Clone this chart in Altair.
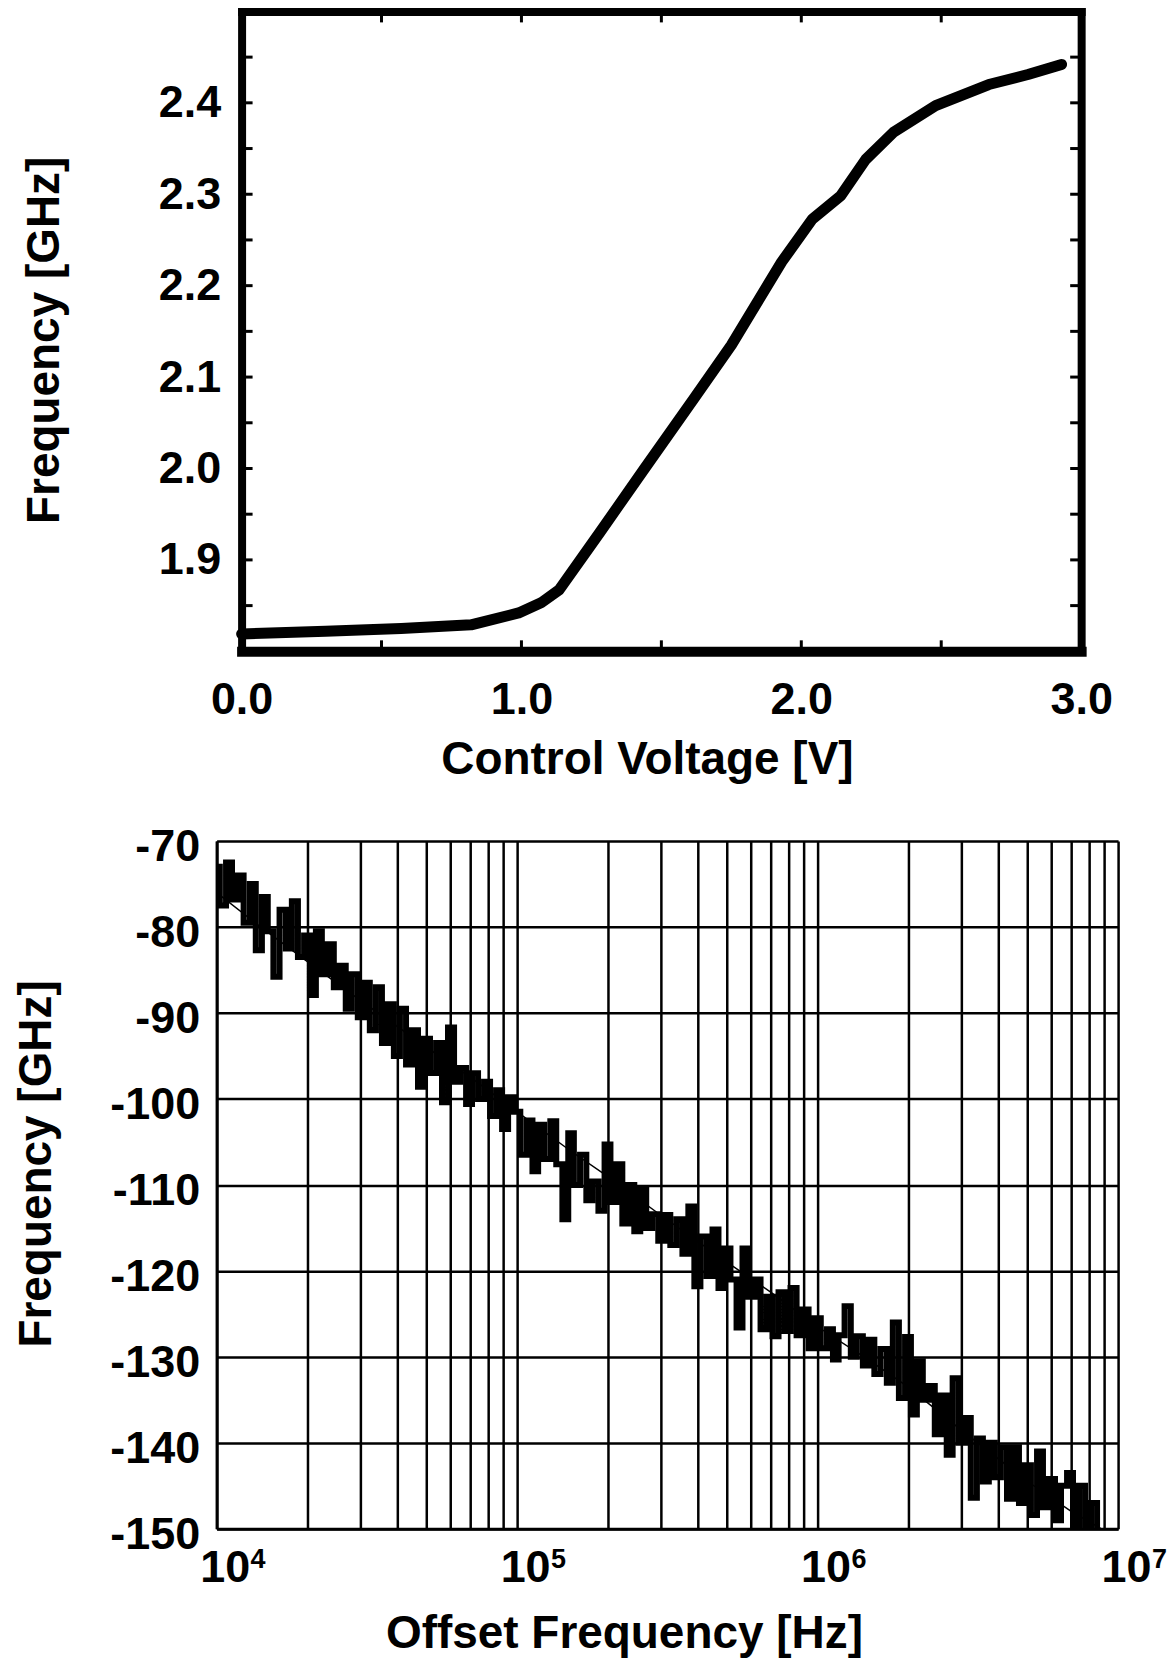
import altair as alt
import pandas as pd

FONT = "Liberation Sans"

# ---------------- top chart: tuning curve ----------------
volt = [0.0, 0.3, 0.57, 0.82, 0.99, 1.07, 1.134, 1.28, 1.44, 1.62, 1.75,
        1.93, 2.04, 2.14, 2.23, 2.33, 2.48, 2.67, 2.81, 2.93]
freq_ghz = [1.819, 1.822, 1.825, 1.829, 1.842, 1.853, 1.867, 1.930, 2.000,
            2.078, 2.135, 2.226, 2.273, 2.298, 2.338, 2.368, 2.397, 2.420,
            2.431, 2.442]
top_y_labels = [1.9, 2.0, 2.1, 2.2, 2.3, 2.4]
top_x_labels = [0.0, 1.0, 2.0, 3.0]
top_y_ticks = [1.85, 1.90, 1.95, 2.00, 2.05, 2.10, 2.15, 2.20, 2.25, 2.30,
               2.35, 2.40, 2.45]
top_x_ticks = [0.5, 1.0, 1.5, 2.0, 2.5]

# ---------------- bottom chart: phase noise ----------------
mantissa = [1.00, 1.05, 1.10, 1.15, 1.20, 1.26, 1.32, 1.38, 1.45, 1.51,
            1.58, 1.66, 1.74, 1.82, 1.91, 2.00, 2.09, 2.19, 2.29, 2.40,
            2.51, 2.63, 2.75, 2.88, 3.02, 3.16, 3.31, 3.47, 3.63, 3.80,
            3.98, 4.17, 4.37, 4.57, 4.79, 5.01, 5.25, 5.50, 5.75, 6.03,
            6.31, 6.61, 6.92, 7.24, 7.59, 7.94, 8.32, 8.71, 9.12, 9.55]
decades = [10000, 100000, 1000000]
noise_dbc = [
    -73.0, -77.5, -72.5, -76.8, -74.0, -79.5, -75.0, -82.7, -76.5, -80.5,
    -85.8, -78.0, -82.5, -77.0, -83.5, -81.0, -87.9, -80.5, -85.5, -82.0,
    -87.0, -84.5, -89.5, -85.5, -90.5, -86.5, -92.0, -87.0, -93.5, -89.0,
    -95.0, -89.5, -96.0, -92.0, -98.6, -93.0, -97.0, -93.5, -100.4, -91.7,
    -98.0, -96.4, -100.6, -97.0, -100.0, -98.0, -102.0, -99.0, -103.5, -99.8,
    -101.5, -106.5, -102.5, -108.4, -103.0, -107.0, -102.6, -107.6, -114.0, -104.0,
    -110.0, -106.5, -111.8, -109.6, -113.0, -105.3, -112.0, -107.6, -114.5, -110.0,
    -115.4, -110.5, -115.0, -113.4, -116.5, -113.5, -117.0, -114.0, -118.0, -112.5,
    -121.8, -116.0, -120.6, -115.2, -122.0, -117.4, -121.0, -126.6, -117.4, -123.0,
    -121.0, -126.8, -123.0, -127.6, -122.5, -127.0, -122.0, -127.5, -124.5, -129.0,
    -125.5, -129.0, -126.8, -130.3, -127.5, -124.1, -130.0, -127.6, -131.0, -128.0,
    -132.0, -129.1, -133.0, -126.0, -134.8, -127.7, -136.7, -130.5, -135.0, -133.4,
    -139.0, -134.5, -141.4, -132.5, -140.0, -137.1, -146.4, -139.5, -144.5, -140.0,
    -144.0, -140.5, -146.5, -140.5, -147.0, -142.6, -148.4, -141.0, -147.5, -144.2,
    -149.0, -145.0, -143.5, -150.5, -145.0, -151.0, -147.0, -152.0]
trend_hz = [1e4, 1.4e4, 2e4, 3e4, 5e4, 7e4, 1e5, 1.5e5, 2e5, 3e5, 5e5, 7e5,
            1e6, 1.5e6, 2e6, 3e6, 5e6, 7e6, 8.8e6]
trend_dbc = [-76, -80, -84, -88.5, -94, -97.5, -101.5, -106, -109, -113.5,
             -119, -122.5, -126.5, -130.5, -133.5, -138.5, -144.5, -148, -150]
bottom_y_labels = [-150, -140, -130, -120, -110, -100, -90, -80, -70]
grid_steps = [1, 2, 3, 4, 5, 6, 7, 8, 9]
decade_ticks = [10000, 100000, 1000000, 10000000]
decade_exponents = ["4", "5", "6", "7"]

freq_hz = [m * d for d in decades for m in mantissa][:len(noise_dbc)]
grid_hz = [s * d for d in decades for s in grid_steps] + [10000000]

ax_common = dict(
    labelFont=FONT, labelFontSize=45, labelFontWeight="bold", labelColor="black",
    titleFont=FONT, titleFontSize=46, titleFontWeight="bold", titleColor="black",
    domainColor="black", ticks=False, tickSize=0,
    labelFlush=False, labelOverlap=False,
)

# ---------------- top chart ----------------
W1, H1 = 866, 641
LEFT_IN = 25
xs1 = alt.Scale(domain=[0, 3], range=[LEFT_IN, W1], nice=False, zero=False)
ys1 = alt.Scale(domain=[1.8, 2.5], nice=False, zero=False)

curve_df = pd.DataFrame({"v": volt, "f": freq_ghz})

curve = alt.Chart(curve_df).mark_line(
    color="black", strokeWidth=11, strokeCap="round", strokeJoin="round"
).encode(
    x=alt.X("v:Q", scale=xs1, axis=alt.Axis(
        orient="bottom", values=top_x_labels, format=".1f", labelPadding=26,
        domainWidth=10, domainCap="square", grid=False,
        title="Control Voltage [V]", titleX=431, titleY=86,
        titleBaseline="top", titleAlign="center", **ax_common)),
    y=alt.Y("f:Q", scale=ys1, axis=alt.Axis(
        orient="left", offset=-LEFT_IN, values=top_y_labels, format=".1f",
        labelPadding=21, domainWidth=8, domainCap="square", grid=False,
        title="Frequency [GHz]", titleX=-219, titleY=329, titleAngle=270,
        titleBaseline="top", titleAlign="center", **ax_common)),
)

frame = alt.Chart(curve_df).mark_line(strokeOpacity=0).encode(
    x=alt.X("v:Q", scale=xs1, axis=alt.Axis(
        orient="top", labels=False, title="", domainWidth=8,
        domainCap="square", grid=False, **ax_common)),
    y=alt.Y("f:Q", scale=ys1, axis=alt.Axis(
        orient="right", labels=False, title="", domainWidth=8,
        domainCap="square", grid=False, **ax_common)),
)

ytick_df = pd.DataFrame({"f": top_y_ticks})
xtick_df = pd.DataFrame({"v": top_x_ticks})
TL = 11
left_ticks = alt.Chart(ytick_df).mark_rule(color="black", strokeWidth=3).encode(
    y=alt.Y("f:Q", scale=ys1, axis=None),
    x=alt.value(LEFT_IN), x2=alt.value(LEFT_IN + TL))
right_ticks = alt.Chart(ytick_df).mark_rule(color="black", strokeWidth=3).encode(
    y=alt.Y("f:Q", scale=ys1, axis=None),
    x=alt.value(W1 - TL), x2=alt.value(W1))
bottom_ticks = alt.Chart(xtick_df).mark_rule(color="black", strokeWidth=3).encode(
    x=alt.X("v:Q", scale=xs1, axis=None),
    y=alt.value(H1), y2=alt.value(H1 - TL))
top_ticks = alt.Chart(xtick_df).mark_rule(color="black", strokeWidth=3).encode(
    x=alt.X("v:Q", scale=xs1, axis=None),
    y=alt.value(0), y2=alt.value(TL))

chart1 = alt.layer(
    curve, frame, left_ticks, right_ticks, bottom_ticks, top_ticks
).resolve_axis(x="independent", y="independent").properties(width=W1, height=H1)

# ---------------- bottom chart ----------------
W2, H2 = 903, 689
xs2 = alt.Scale(type="log", domain=[1e4, 1e7], nice=False)
ys2 = alt.Scale(domain=[-150, -70], nice=False, zero=False)

tens = ("datum.value == 10000 || datum.value == 100000 || "
        "datum.value == 1000000 || datum.value == 10000000 ? '10' : ''")

x2axis = alt.Axis(
    values=grid_hz, labelExpr=tens, labelOffset=8, labelPadding=17,
    grid=True, gridColor="black", gridWidth=2.5, gridOpacity=1,
    domainWidth=3, title="Offset Frequency [Hz]", titleX=408, titleY=83,
    titleBaseline="top", titleAlign="center", **ax_common)
y2axis = alt.Axis(
    values=bottom_y_labels, labelExpr="'' + datum.value", labelOffset=6,
    labelPadding=17, grid=True, gridColor="black", gridWidth=2.5, gridOpacity=1,
    domainWidth=3, title="Frequency [GHz]", titleX=-202, titleY=323,
    titleAngle=270, titleBaseline="top", titleAlign="center", **ax_common)

noise_df = pd.DataFrame({"hz": freq_hz, "dbc": noise_dbc})
trend_df = pd.DataFrame({"hz": trend_hz, "dbc": trend_dbc})
exp_df = pd.DataFrame({"hz": decade_ticks, "exp": decade_exponents})

noise = alt.Chart(noise_df).mark_line(
    color="black", strokeWidth=6, interpolate="step", clip=True
).encode(
    x=alt.X("hz:Q", scale=xs2, axis=x2axis),
    y=alt.Y("dbc:Q", scale=ys2, axis=y2axis),
)
trend = alt.Chart(trend_df).mark_line(
    color="black", strokeWidth=1.5, clip=True
).encode(
    x=alt.X("hz:Q", scale=xs2, axis=x2axis),
    y=alt.Y("dbc:Q", scale=ys2, axis=y2axis),
)
exponents = alt.Chart(exp_df).mark_text(
    font=FONT, fontSize=27, fontWeight="bold", color="black",
    align="left", baseline="top", dx=34
).encode(
    x=alt.X("hz:Q", scale=xs2, axis=x2axis),
    y=alt.value(H2 + 18),
    text="exp:N",
)

chart2 = alt.layer(noise, trend, exponents).properties(width=W2, height=H2)

chart = alt.vconcat(chart1, chart2, spacing=43).properties(
    padding={"left": 6, "top": 0, "right": 0, "bottom": 0}
).configure_view(strokeWidth=0)

chart.save("out.html", embed_options={"renderer": "svg", "actions": False})
